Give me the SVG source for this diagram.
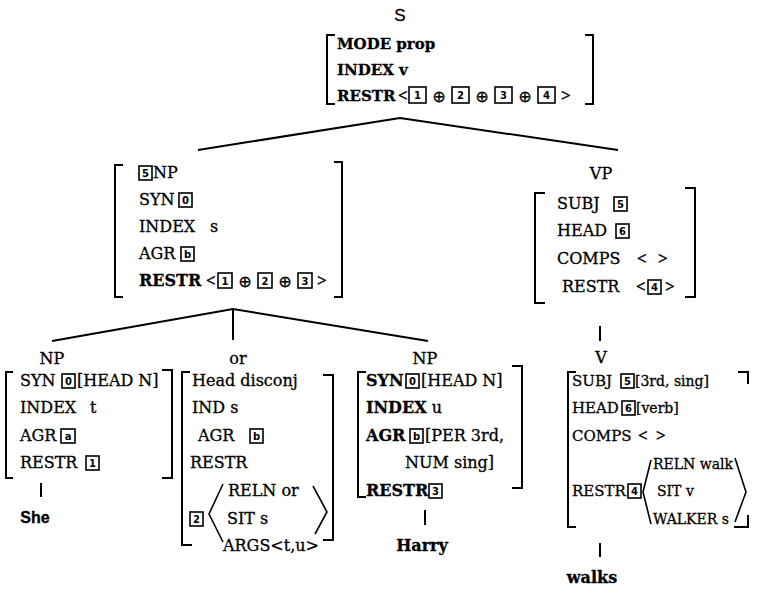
<svg xmlns="http://www.w3.org/2000/svg" width="770" height="600" viewBox="0 0 770 600">
<style>
text{font-family:"DejaVu Serif",serif;font-size:16px;fill:#000;stroke:#000;stroke-width:0.3}
.b{font-weight:bold}
.sm{font-size:15px}
.v15{font-size:15px}
.v14{font-size:14px}
.sans{font-family:"Liberation Sans",Arial,sans-serif}
.br{fill:none;stroke:#000;stroke-width:2}
.ln{fill:none;stroke:#000;stroke-width:2}
.an{fill:none;stroke:#000;stroke-width:1.6}
.tag rect{fill:none;stroke:#000;stroke-width:1.6}
.tag text{font-family:"DejaVu Sans",sans-serif;font-size:10px;font-weight:bold;text-anchor:middle;stroke-width:0}
.op{font-family:"DejaVu Sans",sans-serif;font-size:16px;text-anchor:middle}
.ang{font-family:"Liberation Serif",serif;font-size:17px;font-weight:bold}
.mid{text-anchor:middle}
</style>
<rect width="770" height="600" fill="#fff"/>

<g id="connectors" class="ln">
<path d="M198,150 L400,118 L618,150"/>
<path d="M52,341 L233,309 L428,341 M233,309 V340"/>
<path d="M600,326 V341"/>
<path d="M41,483 V497"/>
<path d="M425,510 V525"/>
<path d="M600,543 V557"/>
</g>

<g id="node-S">
<text class="sans mid" x="400" y="21" style="font-size:17px">S</text>
<path class="br" d="M335,35 H327 V104 H335 M585,35 H593 V104 H585"/>
<text class="b sm" x="337" y="49">MODE prop</text>
<text class="b sm" x="337" y="75">INDEX v</text>
<text class="b sm" x="337" y="101">RESTR</text>
<text class="ang" x="398" y="101">&lt;</text>
<g class="tag"><rect x="409" y="87" width="17" height="16"/><text x="417.5" y="99">1</text></g>
<text class="op" x="439" y="102">⊕</text>
<g class="tag"><rect x="452" y="87" width="17" height="16"/><text x="460.5" y="99">2</text></g>
<text class="op" x="482" y="102">⊕</text>
<g class="tag"><rect x="495" y="87" width="17" height="16"/><text x="503.5" y="99">3</text></g>
<text class="op" x="525" y="102">⊕</text>
<g class="tag"><rect x="538" y="87" width="17" height="16"/><text x="546.5" y="99">4</text></g>
<text class="ang" x="561" y="101">&gt;</text>
</g>

<g id="node-NP-subj">
<path class="br" d="M123,165 H115 V297 H123 M334,162 H342 V297 H334"/>
<g class="tag"><rect x="139" y="166" width="13" height="14"/><text x="145.5" y="176.5">5</text></g>
<text x="153" y="178">NP</text>
<text x="139" y="205">SYN</text>
<g class="tag"><rect x="179" y="193" width="13" height="14"/><text x="185.5" y="203.5">0</text></g>
<text x="139" y="232">INDEX</text>
<text x="210" y="232">s</text>
<text x="139" y="259">AGR</text>
<g class="tag"><rect x="181" y="247" width="13" height="14"/><text x="187.5" y="257.5">b</text></g>
<text class="b" x="139" y="286">RESTR</text>
<text class="ang" x="206" y="286">&lt;</text>
<g class="tag"><rect x="218" y="273" width="14" height="15"/><text x="225" y="284.5">1</text></g>
<text class="op" x="245" y="287">⊕</text>
<g class="tag"><rect x="258" y="273" width="14" height="15"/><text x="265" y="284.5">2</text></g>
<text class="op" x="285" y="287">⊕</text>
<g class="tag"><rect x="298" y="273" width="14" height="15"/><text x="305" y="284.5">3</text></g>
<text class="ang" x="317" y="286">&gt;</text>
</g>

<g id="node-VP">
<text class="mid" x="601" y="179">VP</text>
<path class="br" d="M545,193 H535 V303 H545 M685,188 H695 V297 H685"/>
<text x="557" y="209">SUBJ</text>
<g class="tag"><rect x="614" y="197" width="13" height="14"/><text x="620.5" y="207.5">5</text></g>
<text x="557" y="236">HEAD</text>
<g class="tag"><rect x="616" y="224" width="13" height="14"/><text x="622.5" y="234.5">6</text></g>
<text x="557" y="264">COMPS</text>
<text class="ang" x="637" y="264">&lt;</text>
<text class="ang" x="658" y="264">&gt;</text>
<text x="562" y="292">RESTR</text>
<text class="ang" x="636" y="292">&lt;</text>
<g class="tag"><rect x="648" y="280" width="13" height="14"/><text x="654.5" y="290.5">4</text></g>
<text class="ang" x="665" y="292">&gt;</text>
</g>

<g id="node-NP1">
<text class="mid" x="52" y="364">NP</text>
<path class="br" d="M13,372 H6 V478 H13 M162,370 H172 V478 H162"/>
<text x="20" y="386">SYN</text>
<g class="tag"><rect x="62" y="374" width="13" height="14"/><text x="68.5" y="384.5">0</text></g>
<text x="77" y="386">[HEAD N]</text>
<text x="20" y="413">INDEX</text>
<text x="90" y="413">t</text>
<text x="20" y="441">AGR</text>
<g class="tag"><rect x="61" y="429" width="14" height="14"/><text x="68" y="439.5">a</text></g>
<text x="20" y="468">RESTR</text>
<g class="tag"><rect x="86" y="456" width="13" height="14"/><text x="92.5" y="466.5">1</text></g>
</g>

<g id="node-She">
<text class="sans b mid" x="35" y="523">She</text>
</g>

<g id="node-or">
<text class="mid" x="238" y="364">or</text>
<path class="br" d="M190,372 H182 V545 H192 M323,375 H333 V540 H323"/>
<text x="192" y="386">Head disconj</text>
<text x="192" y="413">IND s</text>
<text x="198" y="441">AGR</text>
<g class="tag"><rect x="250" y="429" width="13" height="14"/><text x="256.5" y="439.5">b</text></g>
<text x="190" y="468">RESTR</text>
<text x="228" y="496">RELN or</text>
<g class="tag"><rect x="190" y="512" width="13" height="14"/><text x="196.5" y="522.5">2</text></g>
<path class="an" d="M223,484 L209,514 L223,542"/>
<text x="227" y="524">SIT s</text>
<path class="an" d="M313,486 L327,512 L315,534"/>
<text x="223" y="551">ARGS&lt;t,u&gt;</text>
</g>

<g id="node-NP3">
<text class="mid" x="425" y="364">NP</text>
<path class="br" d="M366,372 H358 V497 H366 M512,366 H522 V488 H512"/>
<text class="b" x="366" y="386">SYN</text>
<g class="tag"><rect x="406" y="374" width="13" height="14"/><text x="412.5" y="384.5">0</text></g>
<text x="421" y="386">[HEAD N]</text>
<text x="366" y="413"><tspan class="b">INDEX</tspan> u</text>
<text class="b" x="366" y="441">AGR</text>
<g class="tag"><rect x="410" y="429" width="13" height="14"/><text x="416.5" y="439.5">b</text></g>
<text x="425" y="441">[PER 3rd,</text>
<text x="405" y="468">NUM sing]</text>
<text class="b" x="366" y="496">RESTR</text>
<g class="tag"><rect x="429" y="484" width="13" height="14"/><text x="435.5" y="494.5">3</text></g>
</g>

<g id="node-Harry">
<text class="b mid" x="422" y="551">Harry</text>
</g>

<g id="node-V">
<text class="mid" x="601" y="363">V</text>
<path class="br" d="M576,372 H568 V527 H576 M738,372 H748 V384 M734,527 H748 V515"/>
<text class="v15" x="572" y="386">SUBJ</text>
<g class="tag"><rect x="621" y="374" width="13" height="14"/><text x="627.5" y="384.5">5</text></g>
<text class="v14" x="635" y="386">[3rd, sing]</text>
<text class="v15" x="572" y="413">HEAD</text>
<g class="tag"><rect x="622" y="401" width="13" height="14"/><text x="628.5" y="411.5">6</text></g>
<text class="v14" x="636" y="413">[verb]</text>
<text class="v15" x="572" y="441">COMPS</text>
<text class="ang" x="638" y="441">&lt;</text>
<text class="ang" x="656" y="441">&gt;</text>
<text class="v14" x="653" y="469">RELN walk</text>
<text class="v15" x="572" y="496">RESTR</text>
<g class="tag"><rect x="628" y="484" width="13" height="14"/><text x="634.5" y="494.5">4</text></g>
<path class="an" d="M651,460 L643,492 L651,524"/>
<text class="v14" x="657" y="496">SIT v</text>
<text class="v14" x="653" y="524">WALKER s</text>
<path class="an" d="M735,458 L746,492 L735,522"/>
</g>

<g id="node-walks">
<text class="b mid" x="592" y="583">walks</text>
</g>
</svg>
